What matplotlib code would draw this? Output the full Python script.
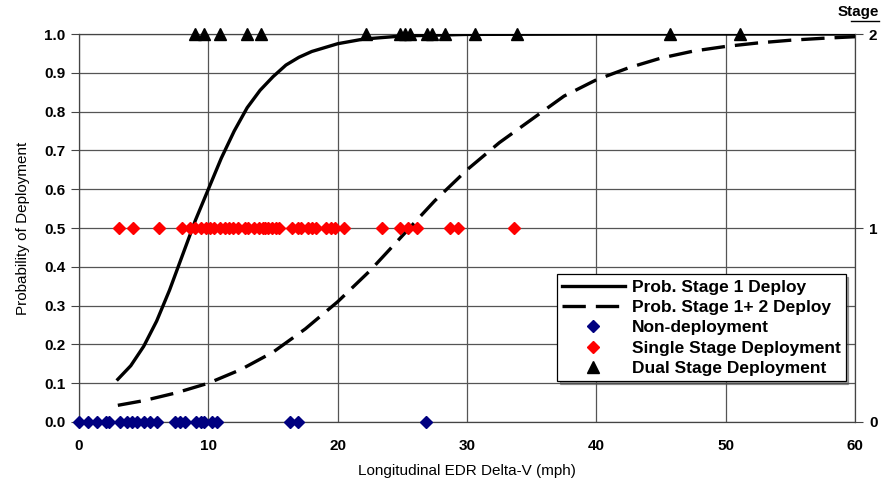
import numpy as np
import matplotlib
matplotlib.use("Agg")
import matplotlib.pyplot as plt

# Observed deployments (Delta-V, mph)
non_deploy_x = [0.0, 0.7, 1.4, 2.1, 2.3, 3.2, 3.7, 4.1, 4.5, 5.0, 5.5, 6.0,
                7.4, 7.8, 8.2, 9.05, 9.4, 9.7, 10.3, 10.7, 16.3, 16.9, 26.8]
single_x = [3.1, 4.2, 6.2, 8.0, 8.6, 9.0, 9.4, 9.8, 10.1, 10.4, 10.9, 11.3,
            11.6, 11.9, 12.3, 12.8, 13.1, 13.5, 13.9, 14.2, 14.4, 14.6, 14.9,
            15.2, 15.5, 16.5, 16.9, 17.2, 17.7, 18.0, 18.3, 19.1, 19.5, 19.8,
            20.5, 23.4, 24.8, 25.4, 26.1, 28.7, 29.3, 33.6]
dual_x = [9.0, 9.7, 10.9, 13.0, 14.1, 22.2, 24.8, 25.2, 25.6, 26.9, 27.3,
          28.3, 30.6, 33.9, 45.7, 51.1]

# Fitted probability curves
stage1_x = [3, 4, 5, 6, 7, 8, 9, 10, 11, 12, 13, 14, 15, 16, 17, 18, 20, 22, 25, 30, 40, 60]
stage1_p = [0.11, 0.145, 0.195, 0.26, 0.34, 0.43, 0.52, 0.6, 0.68, 0.75, 0.81, 0.855,
            0.89, 0.92, 0.94, 0.955, 0.975, 0.987, 0.995, 0.999, 1.0, 1.0]
stage12_x = [3, 5, 7.5, 10, 12.5, 15, 17.5, 20, 22.5, 25, 27.5, 30, 32.5, 35, 37.5,
             40, 42.5, 45, 47.5, 50, 52.5, 55, 57.5, 60]
stage12_p = [0.043, 0.055, 0.075, 0.1, 0.135, 0.18, 0.24, 0.31, 0.39, 0.48, 0.57,
             0.65, 0.72, 0.78, 0.84, 0.882, 0.913, 0.938, 0.956, 0.968, 0.977,
             0.984, 0.989, 0.993]

plt.rcParams['font.family'] = ['Liberation Sans', 'DejaVu Sans']

fig = plt.figure(figsize=(8.81, 4.86), dpi=100)
ax = fig.add_axes([0.0897, 0.1317, 0.8808, 0.7983])

ax.plot(stage1_x, stage1_p, color='black', lw=2.4, label='Prob. Stage 1 Deploy', zorder=3)
ax.plot(stage12_x, stage12_p, color='black', lw=2.4, dashes=(7, 3),
        label='Prob. Stage 1+ 2 Deploy', zorder=3)
ax.plot(non_deploy_x, [0.0] * len(non_deploy_x), ls='none', marker='D', ms=6,
        color='#000080', label='Non-deployment', clip_on=False, zorder=4)
ax.plot(single_x, [0.5] * len(single_x), ls='none', marker='D', ms=6,
        color='#ff0000', label='Single Stage Deployment', clip_on=False, zorder=4)
ax.plot(dual_x, [1.0] * len(dual_x), ls='none', marker='^', ms=8,
        color='black', label='Dual Stage Deployment', clip_on=False, zorder=4)

ax.set_xlim(0, 60)
ax.set_ylim(0, 1.0)
ax.set_xticks(np.arange(0, 61, 10))
ax.set_yticks(np.arange(0, 1.01, 0.1))
ax.set_yticklabels([f"{v:.1f}" for v in np.arange(0, 1.01, 0.1)])
ax.grid(True, color='#555555', lw=0.9)
ax.set_axisbelow(True)
for s in ax.spines.values():
    s.set_color('#444444')
    s.set_linewidth(0.9)
ax.tick_params(axis='y', direction='out', length=6, color='#444444', labelsize=11, pad=4)
ax.tick_params(axis='x', length=0, labelsize=11, pad=12)
for lbl in ax.get_xticklabels() + ax.get_yticklabels():
    lbl.set_fontweight('bold')

ax.set_xlabel('Longitudinal EDR Delta-V (mph)', fontsize=11, labelpad=8)
ax.set_ylabel('Probability of Deployment', fontsize=11, labelpad=10)

ax2 = ax.twinx()
ax2.set_ylim(0, 1.0)
ax2.set_yticks([0, 0.5, 1.0])
ax2.set_yticklabels(['0', '1', '2'], fontweight='bold')
ax2.tick_params(axis='y', direction='out', length=6, color='#444444', labelsize=11, pad=4)
for s in ax2.spines.values():
    s.set_visible(False)
ax.text(1.031, 1.038, 'Stage', transform=ax.transAxes, fontsize=11,
        fontweight='bold', ha='right', va='bottom')
ax.plot([0.995, 1.031], [1.034, 1.034], transform=ax.transAxes, color='black',
        lw=1.0, clip_on=False)

leg = ax.legend(loc='lower right', bbox_to_anchor=(0.988, 0.105),
                prop={'weight': 'bold', 'size': 12.5}, frameon=True, fancybox=False,
                shadow=True, borderpad=0.3, labelspacing=0.3, handlelength=3.6,
                handletextpad=0.4, borderaxespad=0)
leg.get_frame().set_edgecolor('black')
leg.get_frame().set_linewidth(0.9)
leg.get_frame().set_alpha(1)

fig.savefig('out.png', dpi=100)
